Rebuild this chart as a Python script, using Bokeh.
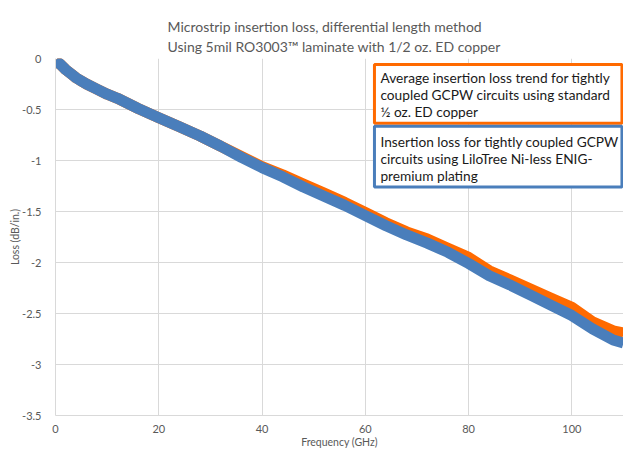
from bokeh.plotting import figure
from bokeh.models import Title, BoxAnnotation, Label, FixedTicker, Range1d
from bokeh.embed import file_html
from bokeh.resources import INLINE

# ---- data ----
freq_ghz = [0, 1, 2, 3, 4, 5, 6, 8, 10, 12, 16, 20, 24, 28, 32, 36, 40, 44,
            48, 52, 56, 60, 64, 68, 72, 76, 80, 84, 88, 92, 96, 100, 104, 108,
            110]
loss_enig = [-0.02, -0.06, -0.11, -0.15, -0.19, -0.22, -0.25, -0.30, -0.35,
             -0.39, -0.49, -0.58, -0.67, -0.76, -0.86, -0.97, -1.07, -1.16,
             -1.26, -1.35, -1.44, -1.54, -1.64, -1.73, -1.81, -1.90, -2.01,
             -2.13, -2.22, -2.32, -2.42, -2.52, -2.65, -2.76, -2.79]
loss_ed = [-0.02, -0.06, -0.11, -0.15, -0.19, -0.22, -0.25, -0.30, -0.35,
           -0.39, -0.49, -0.58, -0.67, -0.76, -0.86, -0.96, -1.06, -1.14,
           -1.23, -1.32, -1.41, -1.51, -1.61, -1.70, -1.77, -1.86, -1.95,
           -2.08, -2.17, -2.26, -2.35, -2.44, -2.58, -2.67, -2.69]

x_ticks = [0, 20, 40, 60, 80, 100]
y_ticks = [0, -0.5, -1, -1.5, -2, -2.5, -3, -3.5]
y_tick_labels = ["0", "-0.5", "-1", "-1.5", "-2", "-2.5", "-3", "-3.5"]

title_lines = ["Microstrip insertion loss, differential length method",
               "Using 5mil RO3003\u2122 laminate with 1/2 oz. ED copper"]
x_label = "Frequency (GHz)"
y_label = "Loss (dB/in.)"
note_ed = ["Average insertion loss trend for tightly",
           "coupled GCPW circuits using standard",
           "\u00bd oz. ED copper"]
note_enig = ["Insertion loss for tightly coupled GCPW",
             "circuits using LiloTree Ni-less ENIG-",
             "premium plating"]

FONT = "Lato"
GRAY = "#595959"
GRID = "#d9d9d9"
ORANGE = "#ff6a00"
BLUE = "#4a7ebb"

p = figure(width=623, height=450, output_backend="svg", toolbar_location=None,
           x_range=Range1d(0, 110), y_range=Range1d(-3.5, 0),
           min_border_left=55, min_border_right=0, min_border_top=58,
           min_border_bottom=35)
p.title = None
p.outline_line_color = None
p.background_fill_color = "white"
p.border_fill_color = "white"

title = Title(text="\n".join(title_lines), align="left", offset=112,
              text_font=FONT, text_font_size="14px", text_color=GRAY,
              text_font_style="normal", standoff=7, text_line_height=1.15)
p.add_layout(title, "above")

for ax in (p.xaxis[0], p.yaxis[0]):
    ax.axis_line_color = GRID
    ax.major_tick_line_color = None
    ax.minor_tick_line_color = None
    ax.major_label_text_font = FONT
    ax.major_label_text_font_size = "11px"
    ax.major_label_text_color = GRAY
    ax.axis_label_text_font = FONT
    ax.axis_label_text_font_size = "10.5px"
    ax.axis_label_text_color = GRAY
    ax.axis_label_text_font_style = "normal"

p.xaxis.ticker = FixedTicker(ticks=x_ticks)
p.yaxis.ticker = FixedTicker(ticks=y_ticks)
p.yaxis.major_label_overrides = {t: l for t, l in zip(y_ticks, y_tick_labels)}
p.xaxis.axis_label = x_label
p.yaxis.axis_label = y_label
p.xaxis.major_label_standoff = 3
p.yaxis.major_label_standoff = 8
p.xaxis.axis_label_standoff = 0
p.yaxis.axis_label_standoff = -2

p.xgrid.ticker = FixedTicker(ticks=x_ticks)
p.ygrid.ticker = FixedTicker(ticks=y_ticks)
p.xgrid.grid_line_color = GRID
p.ygrid.grid_line_color = GRID

p.line(freq_ghz, loss_ed, line_color=ORANGE, line_width=11, line_join="round")
p.line(freq_ghz, loss_enig, line_color=BLUE, line_width=11, line_join="round")

box_ed = BoxAnnotation(left=61.77, right=109.7, top=-0.059, bottom=-0.635,
                       fill_color="white", fill_alpha=1.0,
                       line_color=ORANGE, line_width=3, line_alpha=1.0)
box_enig = BoxAnnotation(left=61.77, right=109.7, top=-0.665, bottom=-1.261,
                         fill_color="white", fill_alpha=1.0,
                         line_color=BLUE, line_width=3, line_alpha=1.0)
p.add_layout(box_ed)
p.add_layout(box_enig)

ed_y = [-0.191, -0.356, -0.520]
enig_y = [-0.816, -0.981, -1.146]
for txt, yy in zip(note_ed, ed_y):
    p.add_layout(Label(x=62.93, y=yy, text=txt, text_font=FONT,
                       text_font_size="13.7px", text_color="#1a1a1a",
                       text_baseline="middle"))
for txt, yy in zip(note_enig, enig_y):
    p.add_layout(Label(x=62.93, y=yy, text=txt, text_font=FONT,
                       text_font_size="13.7px", text_color="#1a1a1a",
                       text_baseline="middle"))

open("out.html", "w").write(file_html(p, INLINE))
